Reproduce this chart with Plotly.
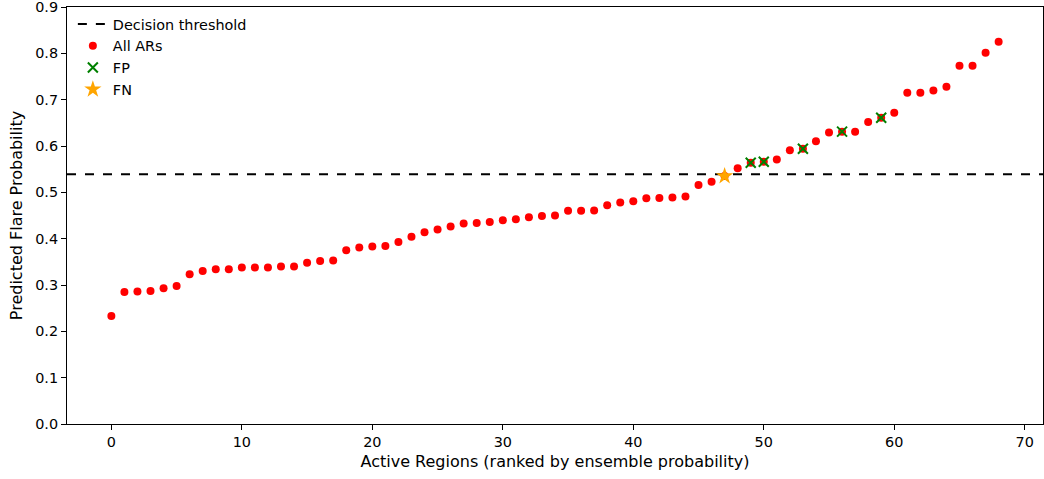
import plotly.graph_objects as go

probs = [0.233, 0.285, 0.286, 0.287, 0.293, 0.298, 0.323, 0.330, 0.334, 0.334,
         0.338, 0.338, 0.338, 0.340, 0.340, 0.348, 0.352, 0.353, 0.375, 0.381,
         0.383, 0.384, 0.393, 0.404, 0.414, 0.420, 0.426, 0.433, 0.434, 0.436,
         0.440, 0.442, 0.446, 0.449, 0.450, 0.460, 0.460, 0.461, 0.472, 0.478,
         0.481, 0.487, 0.488, 0.489, 0.491, 0.516, 0.523, 0.535, 0.552, 0.564,
         0.566, 0.571, 0.591, 0.594, 0.610, 0.629, 0.631, 0.631, 0.652, 0.661,
         0.672, 0.715, 0.715, 0.720, 0.728, 0.773, 0.773, 0.801, 0.825]
ranks = list(range(len(probs)))
fp_idx = [49, 50, 53, 56, 59]
fn_idx = [47]
threshold = 0.539
x_ticks = [0, 10, 20, 30, 40, 50, 60, 70]
y_ticks = [0.0, 0.1, 0.2, 0.3, 0.4, 0.5, 0.6, 0.7, 0.8, 0.9]

FS = 14.4
TS = 16

fig = go.Figure()
fig.add_trace(go.Scatter(x=[-3.4, 71.4], y=[threshold, threshold], mode="lines",
                         line=dict(color="black", dash="dash", width=2),
                         name="Decision threshold"))
fig.add_trace(go.Scatter(x=ranks, y=probs, mode="markers",
                         marker=dict(color="red", size=8, line=dict(width=0)),
                         name="All ARs"))
fig.add_trace(go.Scatter(x=fp_idx, y=[probs[i] for i in fp_idx], mode="markers",
                         marker=dict(symbol="x-thin", size=10, color="green",
                                     line=dict(color="green", width=2)),
                         name="FP"))
fig.add_trace(go.Scatter(x=fn_idx, y=[probs[i] for i in fn_idx], mode="markers",
                         marker=dict(symbol="star", size=13, color="orange", line=dict(width=0)),
                         name="FN"))

axis_common = dict(showgrid=False, zeroline=False, showline=True, linecolor="black",
                   linewidth=1, mirror=True, ticks="outside", ticklen=5, tickwidth=1,
                   tickcolor="black", tickfont=dict(size=FS, color="black"),
                   automargin=False, ticklabeloverflow="allow")
fig.update_layout(
    width=1044, height=479,
    margin=dict(l=67, r=1, t=7, b=55),
    plot_bgcolor="white", paper_bgcolor="white",
    font=dict(family="DejaVu Sans", size=FS, color="black"),
    showlegend=True,
    legend=dict(x=0.006, y=0.997, xanchor="left", yanchor="top",
                bgcolor="rgba(255,255,255,0)", font=dict(size=FS),
                itemwidth=30, tracegroupgap=0),
    xaxis=dict(range=[-3.4, 71.4], tickvals=x_ticks,
               title=dict(text="Active Regions (ranked by ensemble probability)",
                          font=dict(size=TS), standoff=6), **axis_common),
    yaxis=dict(range=[0, 0.9], tickvals=y_ticks, tickformat=".1f",
               title=dict(text="Predicted Flare Probability", font=dict(size=TS), standoff=8),
               **axis_common),
)
fig.write_html("out.html", config={"displayModeBar": False},
               post_script="document.body.style.margin='0';document.body.style.overflow='hidden';")
